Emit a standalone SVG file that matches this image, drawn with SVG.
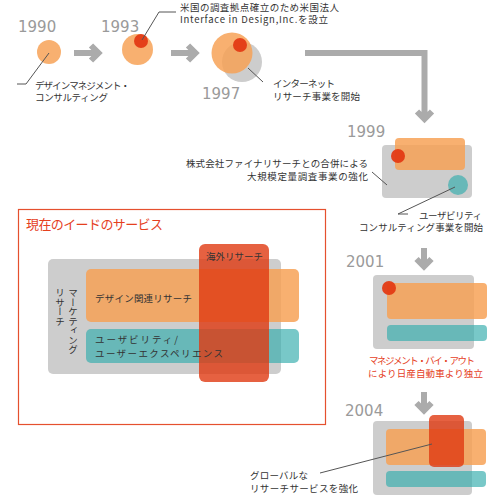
<svg xmlns="http://www.w3.org/2000/svg" width="500" height="497" viewBox="0 0 500 497">
<style>
.yr{font-family:"DejaVu Sans","Liberation Sans",sans-serif;font-size:15px;fill:#9a9a9a}
.t{font-family:"Noto Sans CJK JP","Noto Sans",sans-serif;font-size:9.5px;fill:#333}
.tr{font-family:"Noto Sans CJK JP","Noto Sans",sans-serif;font-size:9.5px;fill:#E5401E}
.gray{fill:#CDCDCD}
.or{fill:#F7A155;fill-opacity:0.84}
.te{fill:#36ADAD;fill-opacity:0.67}
.rd{fill:#E03A12;fill-opacity:0.8}
.dot{fill:#E33A14;fill-opacity:0.95}
.arr{fill:none;stroke:#ABABAB;stroke-width:6;stroke-linejoin:miter;stroke-linecap:butt}
.ld{fill:none;stroke:#555;stroke-width:1}
</style>
<rect width="500" height="497" fill="#fff"/>

<g id="connectors">
  <path class="arr" d="M74,53 H97 M91,45.5 L98.5,53 L91,60.5"/>
  <path class="arr" d="M171,53 H194 M188,45.5 L195.5,53 L188,60.5"/>
  <path class="arr" d="M305,53 H424.5 V117 M417,111.5 L424.5,119 L432,111.5"/>
  <path class="arr" d="M424,248 V264 M416.5,259 L424,266.5 L431.5,259"/>
  <path class="arr" d="M424,392 V408 M416.5,403 L424,410.5 L431.5,403"/>
</g>

<g id="n1990">
  <text class="yr" x="18" y="32">1990</text>
  <circle class="or" cx="49" cy="52" r="12"/>
  <path class="ld" d="M49,53 L26,84 H17"/>
  <text class="t" x="35" y="89" textLength="95">デザインマネジメント・</text>
  <text class="t" x="35" y="100.5" textLength="73">コンサルティング</text>
</g>

<g id="n1993">
  <text class="yr" x="101" y="32">1993</text>
  <circle class="or" cx="137.5" cy="49.5" r="15.5"/>
  <circle class="dot" cx="141" cy="41" r="7"/>
  <path class="ld" d="M142,40 L159,12 H176"/>
  <text class="t" x="180" y="10.5" textLength="159">米国の調査拠点確立のため米国法人</text>
  <text class="t" x="180" y="22.5" textLength="148">Interface in Design,Inc.を設立</text>
</g>

<g id="n1997">
  <circle class="gray" cx="242" cy="62" r="20"/>
  <circle class="or" cx="232" cy="53" r="20.5"/>
  <circle class="dot" cx="240" cy="45" r="7"/>
  <text class="yr" x="202" y="99">1997</text>
  <path class="ld" d="M248,68 L263,82"/>
  <text class="t" x="273" y="87" textLength="62">インターネット</text>
  <text class="t" x="273" y="100" textLength="87">リサーチ事業を開始</text>
</g>

<g id="n1999">
  <text class="yr" x="347" y="137">1999</text>
  <rect class="gray" x="382" y="145" width="90" height="53" rx="4"/>
  <rect class="or" x="395" y="138" width="70" height="32" rx="4"/>
  <circle class="dot" cx="398" cy="156" r="7"/>
  <circle class="te" cx="458" cy="185" r="10"/>
  <text class="t" x="368" y="167" text-anchor="end" textLength="182">株式会社ファイナリサーチとの合併による</text>
  <text class="t" x="368" y="179.5" text-anchor="end" textLength="121">大規模定量調査事業の強化</text>
  <path class="ld" d="M372,172 L387,185"/>
  <path class="ld" d="M455,187 L398,214 H408"/>
  <text class="t" x="419" y="218.5" textLength="63">ユーザビリティ</text>
  <text class="t" x="483" y="231" text-anchor="end" textLength="124">コンサルティング事業を開始</text>
</g>

<g id="services">
  <rect x="18.5" y="209.5" width="307" height="215" fill="none" stroke="#E5502E" stroke-width="1.2"/>
  <text x="26" y="229" font-family="Noto Sans CJK JP, Noto Sans, sans-serif" font-size="13" fill="#E5401E" textLength="137">現在のイードのサービス</text>
  <rect class="gray" x="48" y="259" width="233" height="115" rx="5"/>
  <rect class="or" x="86" y="269" width="213" height="53" rx="5"/>
  <rect class="te" x="86" y="329" width="213" height="34" rx="5"/>
  <rect class="rd" x="199" y="244" width="70" height="138" rx="6"/>
  <text class="t" x="206" y="260" textLength="57">海外リサーチ</text>
  <text class="t" x="95" y="302" textLength="97">デザイン関連リサーチ</text>
  <text class="t" x="95" y="343" textLength="83">ユーザビリティ/</text>
  <text class="t" x="95" y="357" textLength="128">ユーザーエクスペリエンス</text>
  <text class="t" x="73" y="288" style="writing-mode:vertical-rl">マーケティング</text>
  <text class="t" x="60" y="288" style="writing-mode:vertical-rl">リサーチ</text>
</g>

<g id="n2001">
  <text class="yr" x="346" y="267">2001</text>
  <rect class="gray" x="373" y="275" width="101" height="74" rx="4"/>
  <rect class="or" x="387" y="283" width="100" height="36" rx="4"/>
  <rect class="te" x="387" y="325" width="100" height="16" rx="4"/>
  <circle class="dot" cx="389" cy="288" r="7"/>
  <text class="tr" x="369" y="364" textLength="106">マネジメント・バイ・アウト</text>
  <text class="tr" x="368" y="377" textLength="115">により日産自動車より独立</text>
</g>

<g id="n2004">
  <text class="yr" x="345" y="416">2004</text>
  <rect class="gray" x="373" y="421" width="99" height="74" rx="4"/>
  <rect class="or" x="386" y="429" width="100" height="36" rx="4"/>
  <rect class="te" x="386" y="471" width="100" height="16" rx="4"/>
  <rect class="rd" x="429" y="415" width="35" height="52" rx="5"/>
  <path class="ld" d="M320,473 L432,444"/>
  <text class="t" x="250" y="479" textLength="58">グローバルな</text>
  <text class="t" x="250" y="492" textLength="108">リサーチサービスを強化</text>
</g>
</svg>
